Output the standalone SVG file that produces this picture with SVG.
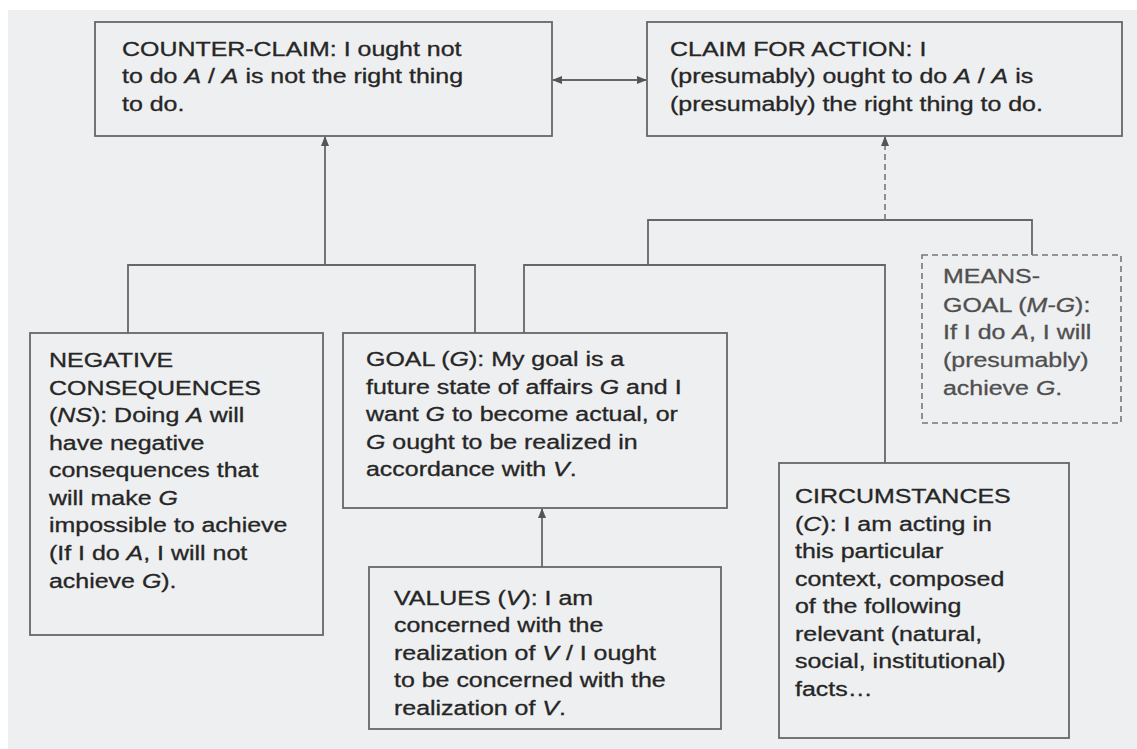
<svg xmlns="http://www.w3.org/2000/svg" width="1137" height="749" viewBox="0 0 1137 749">
<style>
.box{fill:none;stroke:#666;stroke-width:1.8}
.dash{fill:none;stroke:#777;stroke-width:1.6;stroke-dasharray:6 4}
.ln{fill:none;stroke:#666;stroke-width:1.8}
.t{font-family:"Liberation Sans",Arial,sans-serif;font-size:19.5px;fill:#262626;stroke:#262626;stroke-width:0.3}
.tg{fill:#505050;stroke:#505050}
.i{font-style:italic}
</style>
<defs>
<marker id="ah" viewBox="0 0 10 10" refX="9" refY="5" markerWidth="10" markerHeight="8" markerUnits="userSpaceOnUse" orient="auto-start-reverse" preserveAspectRatio="none">
<path d="M0,0 L10,5 L0,10 z" fill="#555"/>
</marker>
</defs>
<rect x="0" y="0" width="1137" height="749" fill="#ffffff"/>
<rect x="8" y="10" width="1129" height="739" fill="#eeeff0"/>

<g id="connectors">
<line class="ln" x1="553" y1="80" x2="646" y2="80" marker-start="url(#ah)" marker-end="url(#ah)"/>
<line class="ln" x1="325" y1="265" x2="325" y2="137" marker-end="url(#ah)"/>
<polyline class="ln" points="128,333 128,265 475,265 475,333"/>
<line class="ln" x1="542" y1="567" x2="542" y2="509" marker-end="url(#ah)"/>
<polyline class="ln" points="524,333 524,265 885,265 885,463"/>
<polyline class="ln" points="648,265 648,220 1032,220 1032,255"/>
<line class="dash" x1="885" y1="220" x2="885" y2="137" marker-end="url(#ah)"/>
</g>

<g id="counter-claim">
<rect class="box" x="95" y="22" width="457" height="114"/>
<text class="t" transform="translate(122 0) scale(1.28 1)">
<tspan x="0" y="56">COUNTER-CLAIM: I ought not</tspan>
<tspan x="0" y="83">to do <tspan class="i">A</tspan> / <tspan class="i">A</tspan> is not the right thing</tspan>
<tspan x="0" y="111">to do.</tspan>
</text>
</g>

<g id="claim">
<rect class="box" x="647" y="22" width="475" height="114"/>
<text class="t" transform="translate(670 0) scale(1.28 1)">
<tspan x="0" y="56">CLAIM FOR ACTION: I</tspan>
<tspan x="0" y="83">(presumably) ought to do <tspan class="i">A</tspan> / <tspan class="i">A</tspan> is</tspan>
<tspan x="0" y="111">(presumably) the right thing to do.</tspan>
</text>
</g>

<g id="negative-consequences">
<rect class="box" x="30" y="333" width="293" height="302"/>
<text class="t" transform="translate(49 0) scale(1.28 1)">
<tspan x="0" y="367">NEGATIVE</tspan>
<tspan x="0" y="395">CONSEQUENCES</tspan>
<tspan x="0" y="422">(<tspan class="i">NS</tspan>): Doing <tspan class="i">A</tspan> will</tspan>
<tspan x="0" y="450">have negative</tspan>
<tspan x="0" y="477">consequences that</tspan>
<tspan x="0" y="505">will make <tspan class="i">G</tspan></tspan>
<tspan x="0" y="532">impossible to achieve</tspan>
<tspan x="0" y="560">(If I do <tspan class="i">A</tspan>, I will not</tspan>
<tspan x="0" y="588">achieve <tspan class="i">G</tspan>).</tspan>
</text>
</g>

<g id="goal">
<rect class="box" x="343" y="333" width="384" height="175"/>
<text class="t" transform="translate(366 0) scale(1.28 1)">
<tspan x="0" y="366">GOAL (<tspan class="i">G</tspan>): My goal is a</tspan>
<tspan x="0" y="394">future state of affairs <tspan class="i">G</tspan> and I</tspan>
<tspan x="0" y="421">want <tspan class="i">G</tspan> to become actual, or</tspan>
<tspan x="0" y="449"><tspan class="i">G</tspan> ought to be realized in</tspan>
<tspan x="0" y="476">accordance with <tspan class="i">V</tspan>.</tspan>
</text>
</g>

<g id="means-goal">
<rect class="dash" x="922" y="255" width="199" height="168"/>
<text class="t tg" transform="translate(943 0) scale(1.28 1)">
<tspan x="0" y="283">MEANS-</tspan>
<tspan x="0" y="312">GOAL (<tspan class="i">M-G</tspan>):</tspan>
<tspan x="0" y="339">If I do <tspan class="i">A</tspan>, I will</tspan>
<tspan x="0" y="367">(presumably)</tspan>
<tspan x="0" y="395">achieve <tspan class="i">G</tspan>.</tspan>
</text>
</g>

<g id="values">
<rect class="box" x="369" y="567" width="352" height="162"/>
<text class="t" transform="translate(394 0) scale(1.28 1)">
<tspan x="0" y="605">VALUES (<tspan class="i">V</tspan>):  I am</tspan>
<tspan x="0" y="632">concerned with the</tspan>
<tspan x="0" y="660">realization of <tspan class="i">V</tspan> / I ought</tspan>
<tspan x="0" y="687">to be concerned with the</tspan>
<tspan x="0" y="715">realization of <tspan class="i">V</tspan>.</tspan>
</text>
</g>

<g id="circumstances">
<rect class="box" x="779" y="463" width="290" height="275"/>
<text class="t" transform="translate(795 0) scale(1.28 1)">
<tspan x="0" y="503">CIRCUMSTANCES</tspan>
<tspan x="0" y="531">(<tspan class="i">C</tspan>):  I am acting in</tspan>
<tspan x="0" y="558">this particular</tspan>
<tspan x="0" y="586">context, composed</tspan>
<tspan x="0" y="613">of the following</tspan>
<tspan x="0" y="641">relevant (natural,</tspan>
<tspan x="0" y="668">social, institutional)</tspan>
<tspan x="0" y="696">facts…</tspan>
</text>
</g>
</svg>
